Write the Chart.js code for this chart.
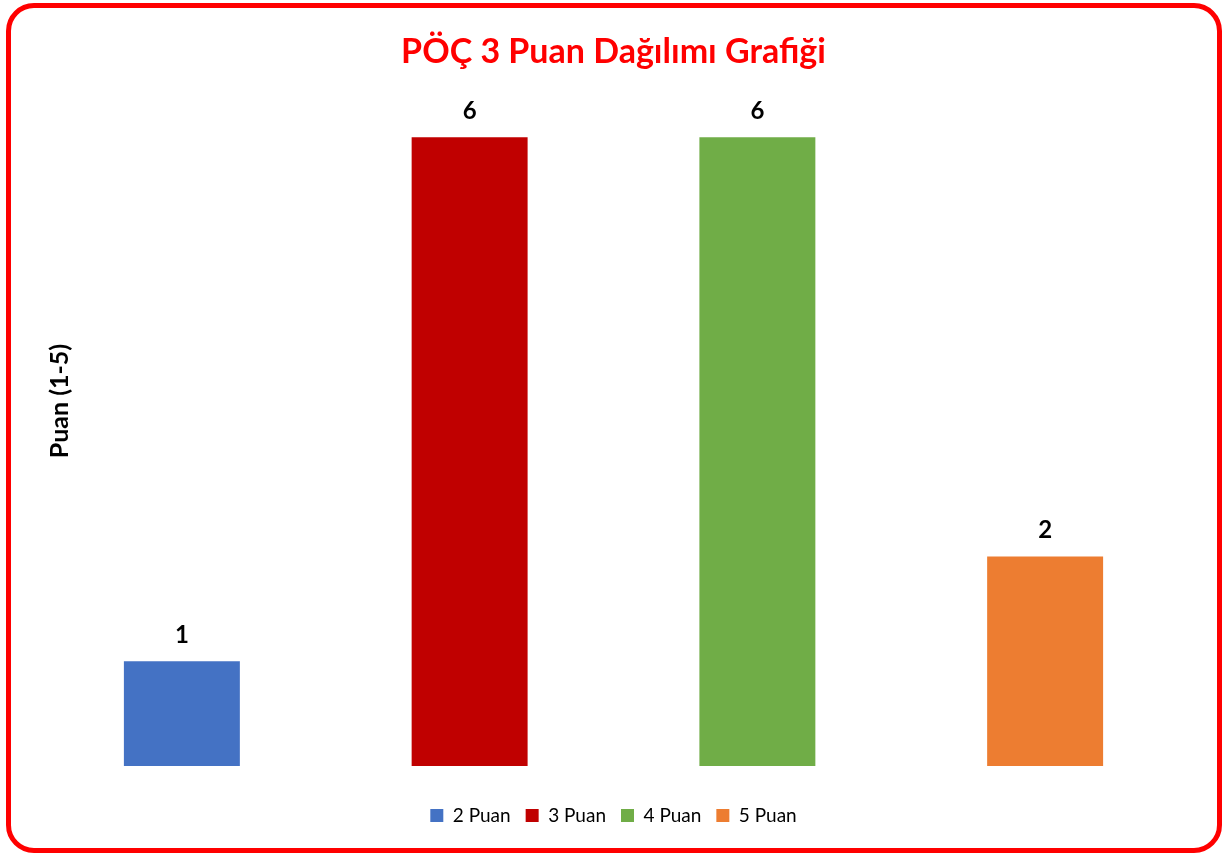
<!DOCTYPE html>
<html>
<head>
<meta charset="utf-8">
<script src="https://cdn.jsdelivr.net/npm/chart.js@4.4.1/dist/chart.umd.min.js"></script>
<style>
    body { margin: 0; background: #fff; }
    #wrap { position: relative; width: 1227px; height: 853px; overflow: hidden; }
    #frame {
        position: absolute; left: 6px; top: 3px; width: 1216px; height: 850px;
        box-sizing: border-box; border: 5px solid #ff0000; border-radius: 28px;
        pointer-events: none;
    }
</style>
</head>
<body>
<div id="wrap">
    <canvas id="myChart" width="1227" height="853"></canvas>
    <div id="frame"></div>
</div>
<script>
const categories = ['2 Puan', '3 Puan', '4 Puan', '5 Puan']
const counts = [1, 6, 6, 2]
const colors = ['#4472C4', '#C00000', '#70AD47', '#ED7D31']
const FONT = 'Lato'

// value above each bar
const bar_labels = {
    id: 'bar_labels',
    afterDatasetsDraw(chart) {
        let ctx = chart.ctx
        let meta = chart.getDatasetMeta(0)
        ctx.save()
        ctx.font = `bold 24px ${FONT}`
        ctx.fillStyle = '#000'
        ctx.textAlign = 'center'
        ctx.textBaseline = 'middle'
        meta.data.forEach((bar, i) => {
            ctx.fillText(String(counts[i]), bar.x, bar.y - 26)
        })
        ctx.restore()
    }
}

// y axis title sits inside the plot's left margin, like the original
const y_title = {
    id: 'y_title',
    afterDraw(chart) {
        let ctx = chart.ctx
        ctx.save()
        ctx.translate(60, 401)
        ctx.rotate(-Math.PI / 2)
        ctx.font = `bold 25px ${FONT}`
        ctx.fillStyle = '#000'
        ctx.textAlign = 'center'
        ctx.textBaseline = 'middle'
        ctx.fillText('Puan (1-5)', 0, 0)
        ctx.restore()
    }
}

let data = {
    labels: categories,
    datasets: [{
        label: 'Puan',
        data: counts,
        backgroundColor: colors,
        borderWidth: 0,
        categoryPercentage: 1,
        barPercentage: 0.403
    }]
}

let config = {
    type: 'bar',
    data: data,
    options: {
        responsive: false,
        animation: false,
        layout: { padding: { left: 38, right: 38, top: 0, bottom: 18 } },
        scales: {
            x: {
                grid: { display: false },
                border: { display: false },
                ticks: { display: false },
                afterFit: s => { s.height = 25 }
            },
            y: { display: false, min: 0, max: 6.5 }
        },
        plugins: {
            title: {
                display: true,
                text: 'PÖÇ 3 Puan Dağılımı Grafiği',
                color: '#ff0000',
                font: { family: FONT, size: 34, weight: 'bold' },
                padding: { top: 32, bottom: 12 }
            },
            legend: {
                position: 'bottom',
                labels: {
                    font: { family: FONT, size: 19 },
                    color: '#000',
                    boxWidth: 13,
                    boxHeight: 13,
                    padding: 15,
                    generateLabels: () => categories.map((c, i) => ({
                        text: c,
                        fillStyle: colors[i],
                        strokeStyle: colors[i],
                        lineWidth: 0,
                        index: i
                    }))
                }
            },
            tooltip: { enabled: false }
        }
    },
    plugins: [bar_labels, y_title]
}

let myChart = new Chart(document.getElementById('myChart'), config)
</script>
</body>
</html>
